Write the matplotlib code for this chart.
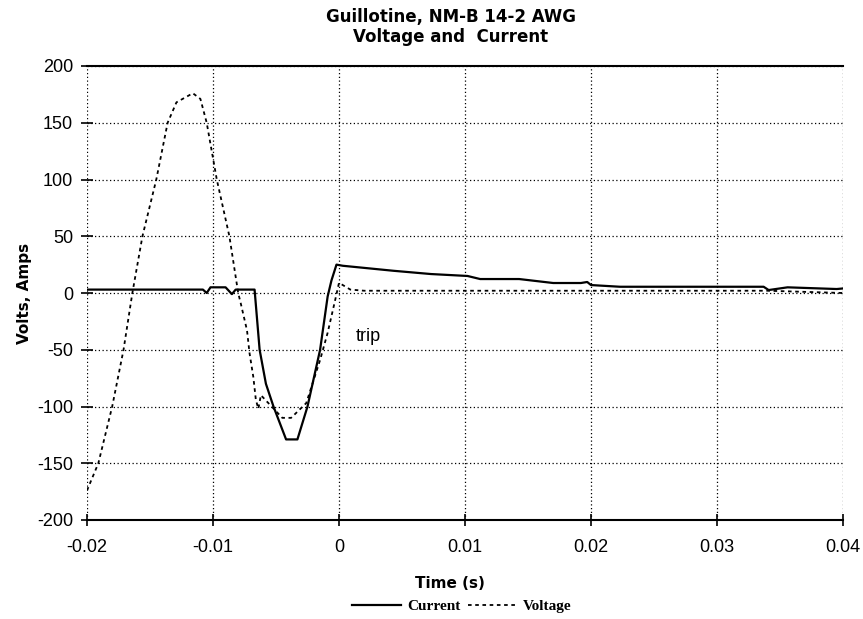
import matplotlib
matplotlib.use("Agg")
import matplotlib.pyplot as plt

# ---- data ----
current_t = [-0.0200, -0.0108, -0.0105, -0.0102, -0.0090, -0.0085, -0.0082, -0.0067,
             -0.0063, -0.0058, -0.0052, -0.0042, -0.0033, -0.0025, -0.0015, -0.0009,
             -0.0006, -0.0002, 0.0003, 0.0043, 0.0073, 0.0102, 0.0112, 0.0143, 0.0170,
             0.0192, 0.0197, 0.0200, 0.0223, 0.0337, 0.0341, 0.0356, 0.0395, 0.0400]
current_v = [3, 3, 0, 5, 5, -1, 3, 3,
             -50, -80, -100, -129, -129, -100, -50, -3,
             11, 25, 24, 19.6, 16.7, 15, 12.3, 12.3, 8.8,
             8.8, 9.7, 7, 5.5, 5.5, 2.6, 5, 3.5, 4]

voltage_t = [-0.0200, -0.0191, -0.0180, -0.0171, -0.0164, -0.0156, -0.0145, -0.0136,
             -0.0129, -0.0116, -0.0110, -0.0105, -0.0097, -0.0087, -0.0080, -0.0078,
             -0.0073, -0.0071, -0.0068, -0.0066, -0.0064, -0.0062, -0.0045, -0.0038,
             -0.0026, -0.0015, -0.0009, -0.0003, 0.0000, 0.0009, 0.0020, 0.0340, 0.0400]
voltage_v = [-174, -150, -100, -50, 0, 50, 100, 150,
             168, 176, 171, 150, 100, 50, 0, -9,
             -33, -53, -74, -94, -102, -90, -110, -110,
             -97, -59, -35, -6, 9, 3, 2, 2, 0]

x_ticks = [-0.02, -0.01, 0, 0.01, 0.02, 0.03, 0.04]
x_tick_labels = ["-0.02", "-0.01", "0", "0.01", "0.02", "0.03", "0.04"]
y_ticks = [-200, -150, -100, -50, 0, 50, 100, 150, 200]
y_tick_labels = ["-200", "-150", "-100", "-50", "0", "50", "100", "150", "200"]

title = "Guillotine, NM-B 14-2 AWG\nVoltage and  Current"

# ---- figure ----
fig = plt.figure(figsize=(8.63, 6.19), dpi=100)
ax = fig.add_axes([87 / 863, 1 - 520 / 619, (843 - 87) / 863, (520 - 66) / 619])

ax.plot(current_t, current_v, color="black", lw=1.6, label="Current")
ax.plot(voltage_t, voltage_v, color="black", lw=1.3, linestyle=(0, (2.0, 2.0)), label="Voltage")

ax.set_xlim(-0.02, 0.04)
ax.set_ylim(-200, 200)
ax.set_xticks(x_ticks)
ax.set_xticklabels(x_tick_labels, fontfamily="Liberation Sans", fontsize=13)
ax.set_yticks(y_ticks)
ax.set_yticklabels(y_tick_labels, fontfamily="Liberation Sans", fontsize=13)
ax.tick_params(direction="inout", length=8, width=1.2)
ax.tick_params(axis="x", pad=10)
ax.tick_params(axis="y", pad=6)

ax.grid(True, color="black", lw=0.9, linestyle=(0, (1, 2)))
for s in ["left", "right"]:
    ax.spines[s].set_visible(False)
for s in ["top", "bottom"]:
    ax.spines[s].set_linewidth(1.5)

ax.text(0.00135, -38, "trip", fontfamily="Liberation Sans", fontsize=13,
        ha="left", va="center")

ax.set_xlabel("Time (s)", fontfamily="DejaVu Sans", fontweight="heavy", fontsize=11)
ax.xaxis.set_label_coords((450 - 87) / 756, -(583 - 520) / 454)
ax.xaxis.label.set_va("center")
ax.set_ylabel("Volts, Amps", fontfamily="DejaVu Sans", fontweight="heavy", fontsize=11)
ax.yaxis.set_label_coords(-(87 - 25) / 756, (520 - 293) / 454)
ax.yaxis.label.set_va("center")

fig.text(451 / 863, 1 - 27 / 619, title, ha="center", va="center",
         fontfamily="DejaVu Sans", fontweight="heavy", fontsize=12, linespacing=1.1)

fig.legend(loc="center", bbox_to_anchor=(462 / 863, 1 - 606 / 619), ncol=2, frameon=False,
           prop={"family": "Liberation Serif", "weight": "bold", "size": 11},
           handlelength=3.2, columnspacing=0.5, handletextpad=0.4)

fig.savefig("out.png", dpi=100)
